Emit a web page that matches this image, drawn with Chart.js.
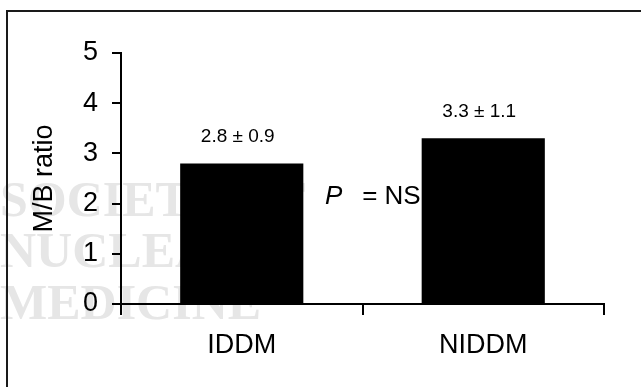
<!DOCTYPE html>
<html>
<head>
<meta charset="utf-8">
<script src="https://cdn.jsdelivr.net/npm/chart.js@4/dist/chart.umd.min.js"></script>
<style>
  html, body { margin: 0; padding: 0; background: #fff; }
  canvas { display: block; }
</style>
</head>
<body>
<canvas id="chart" width="641" height="387"></canvas>
<script>
// Myocardium-to-background ratio by diabetes type (mean ± SD)
const groups = ['IDDM', 'NIDDM'];
const meanRatio = [2.8, 3.3];
const sdRatio = [0.9, 1.1];
const yTicks = [0, 1, 2, 3, 4, 5];
const pValueText = 'NS';
const watermarkLines = ['SOCIETY OF', 'NUCLEAR', 'MEDICINE'];

const FONT = '"Liberation Sans", Arial, sans-serif';

// Page frame and faint publisher watermark, painted beneath the bars
const backdrop = {
  id: 'backdrop',
  beforeDraw(chart) {
    const ctx = chart.ctx;
    ctx.save();
    ctx.fillStyle = '#ffffff';
    ctx.fillRect(0, 0, chart.width, chart.height);

    ctx.fillStyle = '#e6e6e6';
    ctx.font = 'bold 50px "Liberation Serif", "Times New Roman", serif';
    ctx.textAlign = 'left';
    ctx.textBaseline = 'alphabetic';
    const baselines = [216, 267, 319];
    watermarkLines.forEach((t, i) => ctx.fillText(t, 0, baselines[i]));

    ctx.strokeStyle = '#1a1a1a';
    ctx.lineWidth = 2;
    ctx.beginPath();
    ctx.moveTo(7, chart.height);
    ctx.lineTo(7, 11);
    ctx.lineTo(chart.width, 11);
    ctx.stroke();
    ctx.restore();
  }
};

// Mean ± SD labels over the bars and the significance note between them
const annotations = {
  id: 'annotations',
  afterDatasetsDraw(chart) {
    const ctx = chart.ctx;
    const bars = chart.getDatasetMeta(0).data;
    ctx.save();
    ctx.fillStyle = '#000';
    ctx.textBaseline = 'alphabetic';
    ctx.textAlign = 'center';
    ctx.font = '19px ' + FONT;
    bars.forEach((bar, i) => {
      ctx.fillText(meanRatio[i].toFixed(1) + ' \u00B1 ' + sdRatio[i].toFixed(1), bar.x - 4, bar.y - 21);
    });

    const yScale = chart.scales.y;
    const baseY = yScale.getPixelForValue(2);
    const right = bars[1].x - bars[1].width / 2 - 1;
    ctx.font = '26px ' + FONT;
    ctx.textAlign = 'right';
    ctx.fillText('= ' + pValueText, right, baseY);
    ctx.textAlign = 'left';
    ctx.font = 'italic 26px ' + FONT;
    ctx.fillText('P', 325, baseY);
    ctx.restore();
  }
};

new Chart(document.getElementById('chart'), {
  type: 'bar',
  data: {
    labels: groups,
    datasets: [{
      data: meanRatio,
      backgroundColor: '#000',
      borderWidth: 0,
      barPercentage: 0.51,
      categoryPercentage: 1.0
    }]
  },
  options: {
    responsive: false,
    animation: false,
    layout: { padding: { left: 0, right: 37, top: 53, bottom: 0 } },
    plugins: {
      legend: { display: false },
      tooltip: { enabled: false },
      title: { display: false }
    },
    scales: {
      x: {
        offset: true,
        grid: {
          offset: true,
          drawOnChartArea: false,
          drawTicks: true,
          tickLength: 11,
          color: '#000',
          lineWidth: 2
        },
        border: { display: true, color: '#000', width: 2 },
        ticks: {
          color: '#000',
          font: { family: FONT, size: 27 },
          padding: 14,
          maxRotation: 0
        },
        afterFit(scale) { scale.height = 83; }
      },
      y: {
        min: 0,
        max: 5,
        afterBuildTicks(scale) { scale.ticks = yTicks.map(v => ({ value: v })); },
        grid: {
          drawOnChartArea: false,
          drawTicks: true,
          tickLength: 9,
          color: '#000',
          lineWidth: 2
        },
        border: { display: true, color: '#000', width: 2 },
        ticks: {
          color: '#000',
          font: { family: FONT, size: 27 },
          padding: 14
        },
        title: {
          display: true,
          text: 'M/B ratio',
          color: '#000',
          font: { family: FONT, size: 27 },
          padding: { top: 28, bottom: 0 }
        },
        afterFit(scale) { scale.width = 121; }
      }
    }
  },
  plugins: [backdrop, annotations]
});
</script>
</body>
</html>
